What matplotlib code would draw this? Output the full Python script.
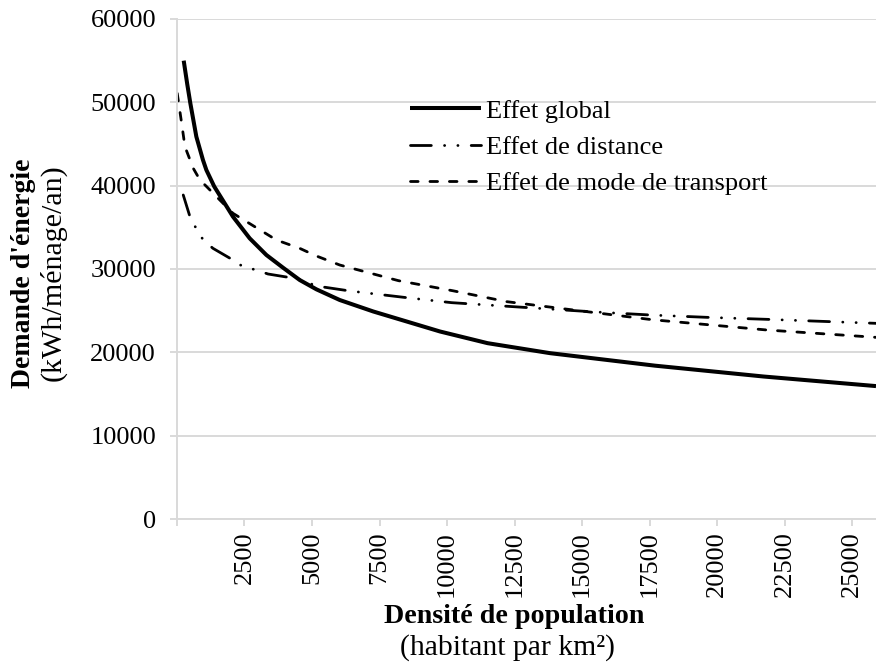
import numpy as np
import matplotlib
matplotlib.use("Agg")
import matplotlib.pyplot as plt

plt.rcParams['font.family'] = ['Liberation Serif', 'DejaVu Serif']
plt.rcParams['lines.scale_dashes'] = False

# valeurs
x_global = [250, 380, 496, 718, 963, 1089, 1380, 2074, 2693, 3311, 3926, 4544, 5163, 6026, 7270, 9740, 11500, 13815, 17700, 21715, 25880]
y_global = [55000, 52200, 49880, 45880, 43080, 41880, 39900, 36280, 33680, 31680, 30160, 28680, 27560, 26280, 24900, 22500, 21100, 19900, 18400, 17100, 15950]

x_distance = [233, 481, 728, 974, 1333, 2074, 2444, 2941, 3370, 4507, 5163, 6407, 8507, 10170, 12830, 15300, 17520, 19620, 21840, 24200, 25880]
y_distance = [38880, 36280, 34760, 33480, 32480, 31080, 30280, 29880, 29400, 28800, 27960, 27360, 26560, 25960, 25400, 24880, 24480, 24200, 23960, 23680, 23480]

x_mode = [10, 174, 296, 604, 852, 1100, 2074, 2878, 3681, 4544, 5163, 6026, 8200, 10230, 12210, 14680, 17580, 21840, 25880]
y_mode = [51080, 47480, 44680, 42080, 40680, 39880, 36680, 35080, 33480, 32480, 31560, 30480, 28600, 27380, 26080, 25080, 23920, 22680, 21800]

x_ticks = [0, 2500, 5000, 7500, 10000, 12500, 15000, 17500, 20000, 22500, 25000]
y_ticks = [0, 10000, 20000, 30000, 40000, 50000, 60000]

fig = plt.figure(figsize=(8.76, 6.66), dpi=100)
ax = fig.add_axes([0.202, 0.2207, 0.798, 0.7508])

ax.plot(x_global, y_global, color='black', lw=2.9, label='Effet global',
        solid_capstyle='butt', solid_joinstyle='round')
ax.plot(x_distance, y_distance, color='black', lw=2.0, label='Effet de distance',
        linestyle=(0, (15, 9.5, 0.1, 9.5, 0.1, 9.5)), dash_capstyle='round')
ax.plot(x_mode, y_mode, color='black', lw=2.0, label='Effet de mode de transport',
        linestyle=(0, (5.5, 8.5)), dash_capstyle='round')

ax.set_xlim(0, 25880)
ax.set_ylim(0, 60000)
ax.set_yticks(y_ticks)
ax.set_xticks(x_ticks)
ax.set_xticklabels([''] + [str(t) for t in x_ticks[1:]], rotation=90)
ax.grid(axis='y', color='#d9d9d9', lw=1.4)
ax.set_axisbelow(True)

for s in ['top', 'right']:
    ax.spines[s].set_visible(False)
for s in ['left', 'bottom']:
    ax.spines[s].set_color('#d9d9d9')
    ax.spines[s].set_linewidth(1.4)
ax.tick_params(axis='both', colors='#d9d9d9', length=5, width=1.4, labelsize=19,
               labelcolor='black')
ax.tick_params(axis='y', pad=10)
ax.tick_params(axis='x', pad=4)

fig.text(0.027, 0.59, "Demande d'énergie", rotation=90, ha='center', va='center',
         fontsize=20, fontweight='bold')
fig.text(0.061, 0.59, "(kWh/ménage/an)", rotation=90, ha='center', va='center',
         fontsize=21.6)
fig.text(0.587, 0.0736, "Densité de population", ha='center', va='center',
         fontsize=20.2, fontweight='bold')
fig.text(0.579, 0.027, "(habitant par km²)", ha='center', va='center', fontsize=21.3)

fig.legend(loc='upper left', bbox_to_anchor=(0.468, 0.851), frameon=False,
           fontsize=19, handlelength=2.7, handletextpad=0.2, labelspacing=0.48,
           borderpad=0, borderaxespad=0)

fig.savefig('out.png', dpi=100)
